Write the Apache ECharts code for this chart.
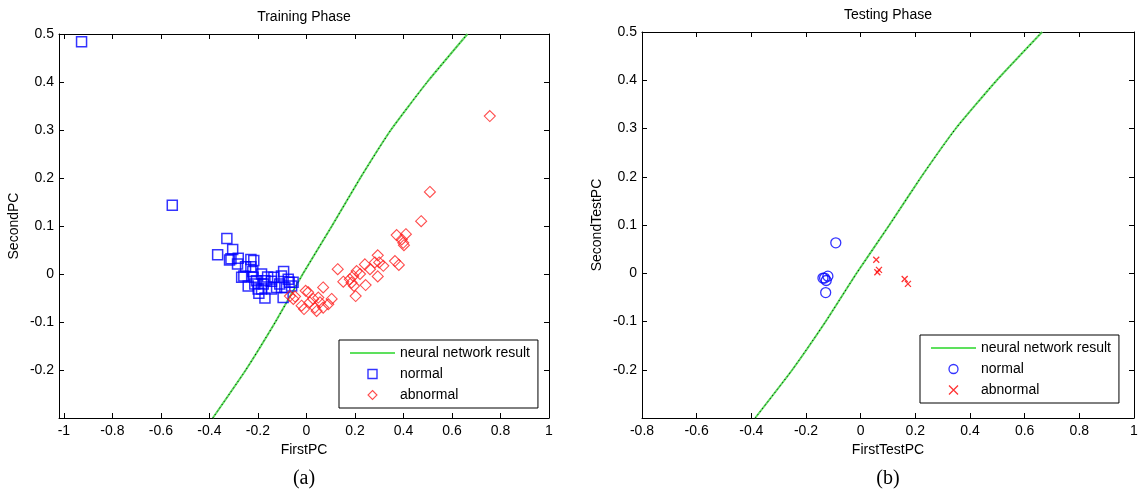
<!DOCTYPE html>
<html><head><meta charset="utf-8">
<script src="https://cdn.jsdelivr.net/npm/echarts@6/dist/echarts.min.js"></script>
<style>html,body{margin:0;padding:0;background:#fff}#c{width:1147px;height:497px}</style>
</head><body><div id="c"></div>
<script>
// ---- data ----
const trainNormal = [
  [-0.927,0.484],[-0.553,0.143],
  [-0.328,0.074],[-0.304,0.051],[-0.366,0.040],[-0.317,0.029],[-0.311,0.032],[-0.281,0.033],
  [-0.284,0.021],[-0.229,0.030],[-0.217,0.028],[-0.251,0.015],[-0.221,0.005],[-0.258,-0.004],
  [-0.185,0.000],[-0.160,-0.006],[-0.094,0.005],[-0.103,-0.004],[-0.071,-0.017],[-0.220,-0.007],
  [-0.206,-0.014],[-0.240,-0.025],[-0.199,-0.031],[-0.178,-0.021],[-0.144,-0.015],[-0.171,-0.050],
  [-0.196,-0.040],[-0.110,-0.021],[-0.089,-0.028],[-0.123,-0.028],[-0.096,-0.049],[-0.061,-0.025],
  [-0.213,-0.021],[-0.171,-0.014],[-0.134,-0.007],[-0.267,-0.007],[-0.229,0.015],[-0.185,-0.031],
  [-0.075,-0.011],[-0.144,-0.031],[-0.055,-0.017]
];
const trainAbnormal = [
  [0.129,0.010],[0.152,-0.016],[0.179,-0.011],[0.193,-0.004],[0.207,0.006],[0.241,0.020],
  [0.262,0.010],[0.294,0.039],[0.300,0.024],[0.317,0.017],[0.294,-0.005],[0.244,-0.023],
  [0.196,-0.025],[0.203,-0.046],[0.221,0.000],[0.365,0.027],[0.381,0.019],[0.069,-0.028],
  [-0.003,-0.035],[0.007,-0.038],[-0.054,-0.052],[-0.020,-0.066],[-0.010,-0.073],[0.028,-0.052],
  [0.049,-0.049],[0.056,-0.059],[0.069,-0.070],[0.042,-0.077],[0.035,-0.070],[0.104,-0.052],
  [0.090,-0.063],[0.014,-0.059],[0.282,0.024],[0.186,-0.018],[-0.068,-0.046],[-0.047,-0.047],
  [0.509,0.171],[0.473,0.110],[0.372,0.081],[0.410,0.083],[0.393,0.072],[0.399,0.065],
  [0.402,0.060],[0.756,0.329]
];
const testNormal = [[-0.091,0.063],[-0.132,-0.010],[-0.120,-0.006],[-0.126,-0.015],[-0.128,-0.040],[-0.138,-0.010]];
const testAbnormal = [[0.057,0.028],[0.067,0.007],[0.061,0.002],[0.161,-0.012],[0.173,-0.022]];
const nnX = [-0.386,-0.250,-0.128,-0.015,0.105,0.222,0.348,0.498,0.664];
const nnY = [-0.3,-0.2,-0.1,0,0.1,0.2,0.3,0.4,0.5];
const xTicksTrain = [-1,-0.8,-0.6,-0.4,-0.2,0,0.2,0.4,0.6,0.8,1];
const xTicksTest = [-0.8,-0.6,-0.4,-0.2,0,0.2,0.4,0.6,0.8,1];
const yTicks = [-0.2,-0.1,0,0.1,0.2,0.3,0.4,0.5];

// ---- chart ----
const FONT = '"Liberation Sans", Arial, sans-serif';
const SERIF = '"Liberation Serif", "Times New Roman", serif';
const CROSS = 'path://M0,0L10,10M0,10L10,0';
const SQUARE = 'path://M0,0L10,0L10,10L0,10Z';
const DIAMOND = 'path://M5,0L10,5L5,10L0,5Z';
function fmt(list){
  return v => {
    const r = Math.round(v*10)/10;
    if (Math.abs(v-r) > 1e-6) return '';
    return list.some(t => Math.abs(t-r) < 1e-9) ? String(r) : '';
  };
}
const txt = {fontFamily: FONT, fontSize: 14, color: '#000'};
function xAx(grid, min, max, ticks, pos, show, name){
  return {
    type:'value', gridIndex:grid, position:pos, min, max,
    splitNumber: Math.round((max-min)/0.2), minInterval:0.2, maxInterval:0.2,
    axisLine:{show:true, onZero:false, lineStyle:{color:'#000', width:1}},
    axisTick:{show:true, inside:true, length:5, lineStyle:{color:'#000', width:1}},
    axisLabel:{show, formatter: fmt(ticks), margin:6, ...txt},
    splitLine:{show:false},
    name: show ? name : '', nameLocation:'middle', nameGap:23, nameTextStyle:{...txt}
  };
}
function yAx(grid, pos, show, name){
  return {
    type:'value', gridIndex:grid, position:pos, min:-0.3, max:0.5, interval:0.1,
    axisLine:{show:true, onZero:false, lineStyle:{color:'#000', width:1}},
    axisTick:{show:true, inside:true, length:5, lineStyle:{color:'#000', width:1}},
    axisLabel:{show, formatter: fmt(yTicks), margin:5, ...txt},
    splitLine:{show:false},
    name: show ? name : '', nameLocation:'middle', nameGap:38, nameTextStyle:{...txt}
  };
}
const nnData = nnX.map((x,i) => [x, nnY[i]]);
function nnSeries(ax){
  return [
    {name:'neural network result', type:'line', xAxisIndex:ax, yAxisIndex:ax, data:nnData,
     symbol:'none', showSymbol:false, smooth:0.15, silent:true,
     itemStyle:{color:'#5de05d'},
     lineStyle:{color:'#5de05d', width:2}, z:2},
    {name:'nnDots', type:'line', xAxisIndex:ax, yAxisIndex:ax, data:nnData,
     symbol:'none', showSymbol:false, smooth:0.15, silent:true,
     lineStyle:{color:'#000', width:1, type:[1,3]}, z:3}
  ];
}
const legendBase = {
  orient:'vertical', padding:[6,8,6,10], itemGap:7, itemWidth:45, itemHeight:9,
  borderColor:'#000', borderWidth:1, backgroundColor:'#fff', borderRadius:0,
  textStyle:{...txt}, selectedMode:false, symbolKeepAspect:true
};
const lineLegendItem = {name:'neural network result', itemStyle:{color:'transparent', borderWidth:0, opacity:0}};
const option = {
  animation:false,
  backgroundColor:'#fff',
  title:[
    {text:'Training Phase', left:304, top:10, textAlign:'center', padding:0, textStyle:{...txt, fontWeight:'normal'}},
    {text:'Testing Phase', left:888, top:8, textAlign:'center', padding:0, textStyle:{...txt, fontWeight:'normal'}},
    {text:'(a)', left:304, top:469, textAlign:'center', padding:0, textStyle:{fontFamily:SERIF, fontSize:20, fontWeight:'normal', color:'#000'}},
    {text:'(b)', left:888, top:469, textAlign:'center', padding:0, textStyle:{fontFamily:SERIF, fontSize:20, fontWeight:'normal', color:'#000'}}
  ],
  grid:[
    {left:59, top:34, right:598, bottom:79, containLabel:false},
    {left:642, top:32, right:13, bottom:79, containLabel:false}
  ],
  xAxis:[
    xAx(0, -1.02, 1, xTicksTrain, 'bottom', true, 'FirstPC'),
    xAx(1, -0.8, 1, xTicksTest, 'bottom', true, 'FirstTestPC'),
    xAx(0, -1.02, 1, xTicksTrain, 'top', false, ''),
    xAx(1, -0.8, 1, xTicksTest, 'top', false, '')
  ],
  yAxis:[
    yAx(0, 'left', true, 'SecondPC'),
    yAx(1, 'left', true, 'SecondTestPC'),
    yAx(0, 'right', false, ''),
    yAx(1, 'right', false, '')
  ],
  legend:[
    {...legendBase, left:339, top:340,
     data:[lineLegendItem,
           {name:'normal', icon:SQUARE, itemStyle:{color:'transparent', borderColor:'#0000ff', borderWidth:1.4}},
           {name:'abnormal', icon:DIAMOND, itemStyle:{color:'transparent', borderColor:'#ff2020', borderWidth:1.1}}]},
    {...legendBase, left:920, top:335,
     data:[lineLegendItem,
           {name:'normal', icon:'circle', itemStyle:{color:'transparent', borderColor:'#0000ff', borderWidth:1.3}},
           {name:'abnormal', icon:CROSS, itemStyle:{color:'#ff0000', borderColor:'#ff0000', borderWidth:1.3}}]}
  ],
  series:[
    ...nnSeries(0),
    {name:'normal', type:'scatter', xAxisIndex:0, yAxisIndex:0, data:trainNormal, symbol:'rect', symbolSize:10,
     itemStyle:{color:'transparent', borderColor:'#0000ff', borderWidth:1.5}, z:4},
    {name:'abnormal', type:'scatter', xAxisIndex:0, yAxisIndex:0, data:trainAbnormal, symbol:'diamond', symbolSize:11,
     itemStyle:{color:'transparent', borderColor:'#ff2020', borderWidth:1.1}, z:4},
    ...nnSeries(1),
    {name:'normal', type:'scatter', xAxisIndex:1, yAxisIndex:1, data:testNormal, symbol:'circle', symbolSize:10,
     itemStyle:{color:'transparent', borderColor:'#0000ff', borderWidth:1.3}, z:4},
    {name:'abnormal', type:'scatter', xAxisIndex:1, yAxisIndex:1, data:testAbnormal, symbol:CROSS, symbolSize:6,
     itemStyle:{color:'#ff0000', borderColor:'#ff0000', borderWidth:1.3}, z:4}
  ]
};
const chart = echarts.init(document.getElementById('c'), null, {renderer:'canvas'});
chart.setOption(option);
</script>
</body></html>
